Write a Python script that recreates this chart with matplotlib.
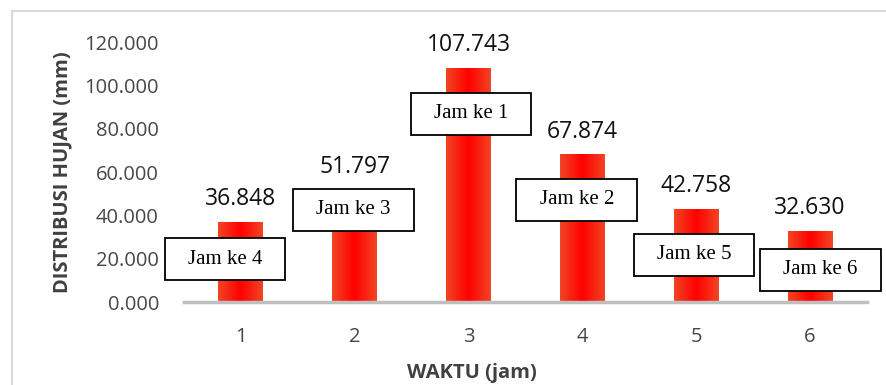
"""Distribusi hujan per jam - bar chart with Jam ke labels."""

import matplotlib
matplotlib.use("Agg")
import matplotlib.pyplot as plt
import numpy as np
from matplotlib.colors import LinearSegmentedColormap
from matplotlib.patches import Rectangle

# data
waktu = [1, 2, 3, 4, 5, 6]
distribusi = [36.848, 51.797, 107.743, 67.874, 42.758, 32.630]
value_labels = ["36.848", "51.797", "107.743", "67.874", "42.758", "32.630"]
y_ticks = [0, 20, 40, 60, 80, 100, 120]
y_tick_labels = ["0.000", "20.000", "40.000", "60.000", "80.000", "100.000", "120.000"]
jam_labels = ["Jam ke 4", "Jam ke 3", "Jam ke 1", "Jam ke 2", "Jam ke 5", "Jam ke 6"]

# where the "Jam ke" boxes sit (data coords, centre)
BOX_X = [0.86, 1.99, 3.02, 3.95, 4.98, 6.09]
BOX_Y = [19.8, 42.5, 86.8, 47.1, 21.8, 14.8]
BOX_W = 1.06
BOX_H = 19.6

TEXT_GRAY = "#474747"

fig = plt.figure(figsize=(8.86, 3.85), dpi=100)
ax = fig.add_axes([184 / 886, 1 - 302 / 385, (867 - 184) / 886, 260 / 385])

bars = ax.bar(waktu, distribusi, width=0.395, color="#ff0c00", zorder=2)

# horizontal gradient: orange-red edges, pure red centre
grad_cmap = LinearSegmentedColormap.from_list("barred", ["#f24424", "#ff0000", "#f24424"])
grad = np.linspace(0, 1, 64).reshape(1, -1)
for bar in bars:
    x0, w, h = bar.get_x(), bar.get_width(), bar.get_height()
    ax.imshow(grad, cmap=grad_cmap, extent=(x0, x0 + w, 0, h), aspect="auto",
              zorder=2.5, interpolation="bicubic")

for bar, lab in zip(bars, value_labels):
    ax.annotate(lab, (bar.get_x() + bar.get_width() / 2, bar.get_height()),
                xytext=(0, 8), textcoords="offset points", ha="center", va="bottom",
                fontsize=16.5, family="Open Sans", color="#111111")

for bx, by, lab in zip(BOX_X, BOX_Y, jam_labels):
    ax.add_patch(Rectangle((bx - BOX_W / 2, by - BOX_H / 2), BOX_W, BOX_H,
                           facecolor="white", edgecolor="black", lw=1.3, zorder=4,
                           clip_on=False))
    ax.text(bx, by, lab, ha="center", va="center", fontsize=15,
            family="Liberation Serif", color="black", zorder=5)

ax.set_xlim(0.5, 6.5)
ax.set_ylim(0, 120)
ax.set_xticks(waktu)
ax.set_xticklabels([str(w) for w in waktu])
ax.set_yticks(y_ticks)
ax.set_yticklabels(y_tick_labels)
ax.tick_params(axis="both", length=0, labelsize=14.5, labelcolor=TEXT_GRAY)
ax.tick_params(axis="x", pad=18)
ax.tick_params(axis="y", pad=18)
for t in ax.get_xticklabels() + ax.get_yticklabels():
    t.set_family("Open Sans")

for side in ["top", "right", "left"]:
    ax.spines[side].set_visible(False)
ax.spines["bottom"].set_color("#bfbfbf")
ax.spines["bottom"].set_linewidth(2.5)
ax.spines["bottom"].set_zorder(3)

fig.text(62 / 886, 1 - 172 / 385, "DISTRIBUSI HUJAN (mm)", rotation=90,
         ha="center", va="center", fontsize=14.5, fontweight="bold",
         family="Open Sans", color="#404040")
fig.text(472 / 886, 1 - 373 / 385, "WAKTU (jam)", ha="center", va="center",
         fontsize=14.5, fontweight="bold", family="Open Sans", color="#404040")

# chart-area border (continues past the right and bottom edges)
fig.patches.append(Rectangle((12 / 886, -0.1), 1.0, 1 - 11 / 385 + 0.1,
                             transform=fig.transFigure, fill=False,
                             edgecolor="#d9d9d9", lw=1.5))

fig.savefig("out.png", dpi=100)
